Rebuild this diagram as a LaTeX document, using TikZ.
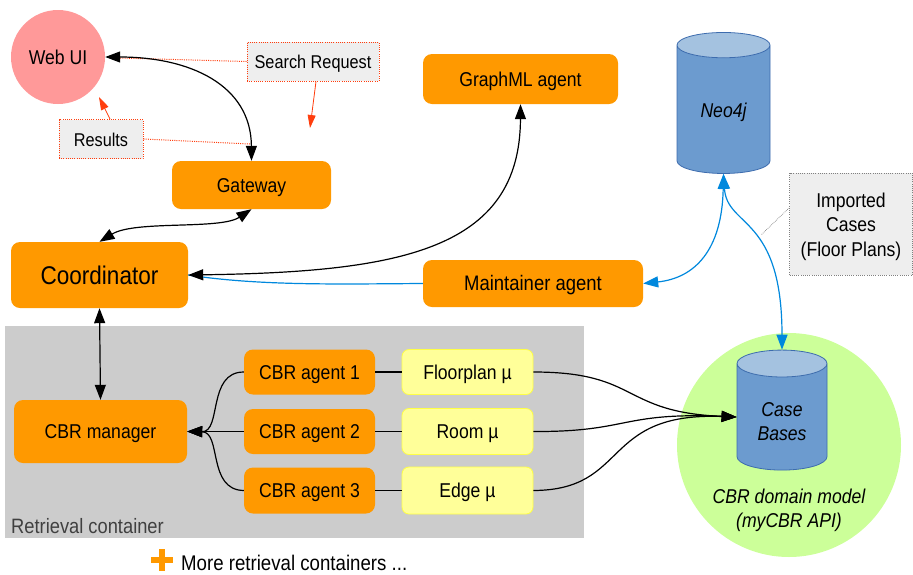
\documentclass[tikz,border=0pt]{standalone}
\usepackage{fontspec}
\setmainfont{Liberation Sans}[FakeStretch=0.88]
\usepackage{tikz}
\usetikzlibrary{arrows.meta, positioning, shapes.geometric}
\definecolor{agentorange}{HTML}{FF9900}
\definecolor{webpink}{HTML}{FF9999}
\definecolor{modelgreen}{HTML}{CCFF99}
\definecolor{mupale}{HTML}{FFFF99}
\definecolor{muedge}{HTML}{FFFF44}
\definecolor{dbblue}{HTML}{6C9BCF}
\definecolor{dbtop}{HTML}{A4C2E0}
\definecolor{dbedge}{HTML}{3D6CAE}
\definecolor{containergray}{HTML}{CCCCCC}
\definecolor{notegray}{HTML}{EEEEEE}
\definecolor{linkblue}{HTML}{0088DD}
\definecolor{notered}{HTML}{FF3D0D}
\tikzset{
  x=1pt, y=-1pt,
  txt/.style={font=\fontsize{20}{24.5}\selectfont, inner sep=0pt, align=center},
  single/.style={txt, text height=17pt, text depth=2.6pt},
  agent/.style={single, fill=agentorange, rounded corners=9pt},
  mubox/.style={single, fill=mupale, draw=muedge, line width=0.8pt, rounded corners=7pt, minimum width=131pt},
  note/.style={txt, fill=notegray, draw=notered, dash pattern=on 1pt off 1.2pt, line width=1pt},
  db/.style={txt, font=\fontsize{20}{24}\selectfont\itshape, cylinder, shape border rotate=90, aspect=0.55,
    draw=dbedge, line width=0.8pt, cylinder uses custom fill, cylinder body fill=dbblue, cylinder end fill=dbtop},
  tips/.style={{Triangle[length=15pt,width=11pt]}-{Triangle[length=15pt,width=11pt]}},
  tip/.style={-{Triangle[length=15pt,width=11pt]}},
  link/.style={line width=1.2pt, black},
  blink/.style={line width=1.2pt, linkblue},
  rednote/.style={notered, dash pattern=on 1pt off 1.2pt, line width=1pt},
  redarrow/.style={notered, line width=0.8pt, -{Triangle[length=13pt,width=8pt]}}
}
\begin{document}
\begin{tikzpicture}
\useasboundingbox (0,0) rectangle (913,574);
%background areas
\fill[containergray] (5,326) rectangle (584,538);
\node[circle, fill=modelgreen, minimum size=224pt, inner sep=0pt] (model) at (789,445) {};
%client side
\node[circle, fill=webpink, minimum size=94pt, single, inner sep=0pt] (webui) at (58,57) {Web UI};
\node[note, single, minimum width=132pt, minimum height=39pt, font=\fontsize{18.5}{22}\selectfont] (search) at (313,61.5) {Search Request};
\node[note, single, minimum width=84pt, minimum height=39pt, font=\fontsize{18.5}{22}\selectfont] (results) at (101,139) {Results};
%agents
\node[agent, minimum width=159pt, minimum height=48pt] (gateway) at (251.5,185) {Gateway};
\node[agent, minimum width=195pt, minimum height=50pt] (graphml) at (520.5,79) {GraphML agent};
\node[agent, minimum width=177pt, minimum height=66pt, font=\fontsize{25.6}{28}\selectfont, text height=21pt] (coordinator) at (99.5,275) {Coordinator};
\node[agent, minimum width=220pt, minimum height=47pt, font=\fontsize{21}{24}\selectfont] (maintainer) at (533,283.5) {Maintainer agent};
\node[agent, minimum width=173pt, minimum height=63pt] (manager) at (100.5,431.5) {CBR manager};
\node[agent, minimum width=131pt, minimum height=45pt] (agenta) at (309.5,372) {CBR agent 1};
\node[agent, minimum width=131pt, minimum height=45pt] (agentb) at (309.5,431.5) {CBR agent 2};
\node[agent, minimum width=131pt, minimum height=46pt] (agentc) at (309.5,490.5) {CBR agent 3};
%similarity measures
\node[mubox, minimum height=45pt] (floorplan) at (467.5,372) {Floorplan µ};
\node[mubox, minimum height=46pt] (room) at (467.5,431.5) {Room µ};
\node[mubox, minimum height=47pt] (edge) at (467.5,490.5) {Edge µ};
%databases
\node[db, minimum width=93pt, minimum height=141pt] (neo) at (723.5,109.5) {\rule{0pt}{20pt}Neo4j};
\node[db, minimum width=90pt, minimum height=120pt] (cases) at (782,417) {\rule{0pt}{24pt}Case\\Bases};
%texts
\node[note, draw=gray, minimum width=123pt, minimum height=102pt] (imported) at (851,224) {\rule{0pt}{20pt}Imported\\Cases\\(Floor Plans)};
\node[txt, font=\fontsize{20}{24}\selectfont\itshape] (modeltext) at (789,510) {CBR domain model\\(myCBR API)};
\node[single, anchor=west, font=\fontsize{20.8}{24}\selectfont, text=black!75] (container) at (11,526) {Retrieval container};
\node[single, anchor=west, font=\fontsize{21.2}{24}\selectfont] (more) at (181,563) {More retrieval containers ...};
%plus sign
\fill[agentorange] (151,556.5) rectangle (173,562.5);
\fill[agentorange] (159,549) rectangle (165,571);
%free ends
\coordinate (searchend) at (310,128);
\coordinate (resultsend) at (99,97);
\coordinate (noteleft) at (120,58);
\coordinate (noteright) at (250,144);
\coordinate (bluepoint) at (761,235);
%dotted notes
\draw[rednote] (search.west) -- (noteleft);
\draw[rednote] (results.east) -- (noteright);
\draw[gray, densely dotted, line width=0.7pt] (imported.west |- 0,208) -- (bluepoint);
\draw[redarrow] (search.south) ++(3,0) -- (searchend);
\draw[redarrow] (results.north) ++(9,0) -- (resultsend);
%blue connectors
\draw[blink] (maintainer.west) .. controls (340,284) and (260,286) .. (coordinator.east);
\draw[blink, tips] (maintainer.east) .. controls (695,278) and (722,250) .. (neo.south);
\draw[blink, tips] (neo.south) .. controls (727,228) and (782,215) .. (cases.north);
%black connectors
\draw[link, tips] (webui.east) .. controls (190,57) and (251,85) .. (gateway.north);
\draw[link, tips] (gateway.south) .. controls (220,230) and (135,220) .. (coordinator.north);
\draw[link, tips] (coordinator.east) .. controls (400,272) and (520,250) .. (graphml.south);
\draw[link, tips] (coordinator.south) -- (manager.north);
\draw[link, tip] (agenta.west) .. controls (207,372) and (222,432) .. (manager.east);
\draw[link, tip] (agentb.west) -- (manager.east);
\draw[link, tip] (agentc.west) .. controls (207,490) and (222,432) .. (manager.east);
\draw[link] (agenta.east) -- (floorplan.west);
\draw[link] (agentb.east) -- (room.west);
\draw[link] (agentc.east) -- (edge.west);
\draw[link, tip] (floorplan.east) .. controls (640,372) and (620,412) .. (cases.west);
\draw[link, tip] (room.east) .. controls (630,432) and (620,412) .. (cases.west);
\draw[link, tip] (edge.east) .. controls (630,490) and (600,412) .. (cases.west);
\end{tikzpicture}
\end{document}
